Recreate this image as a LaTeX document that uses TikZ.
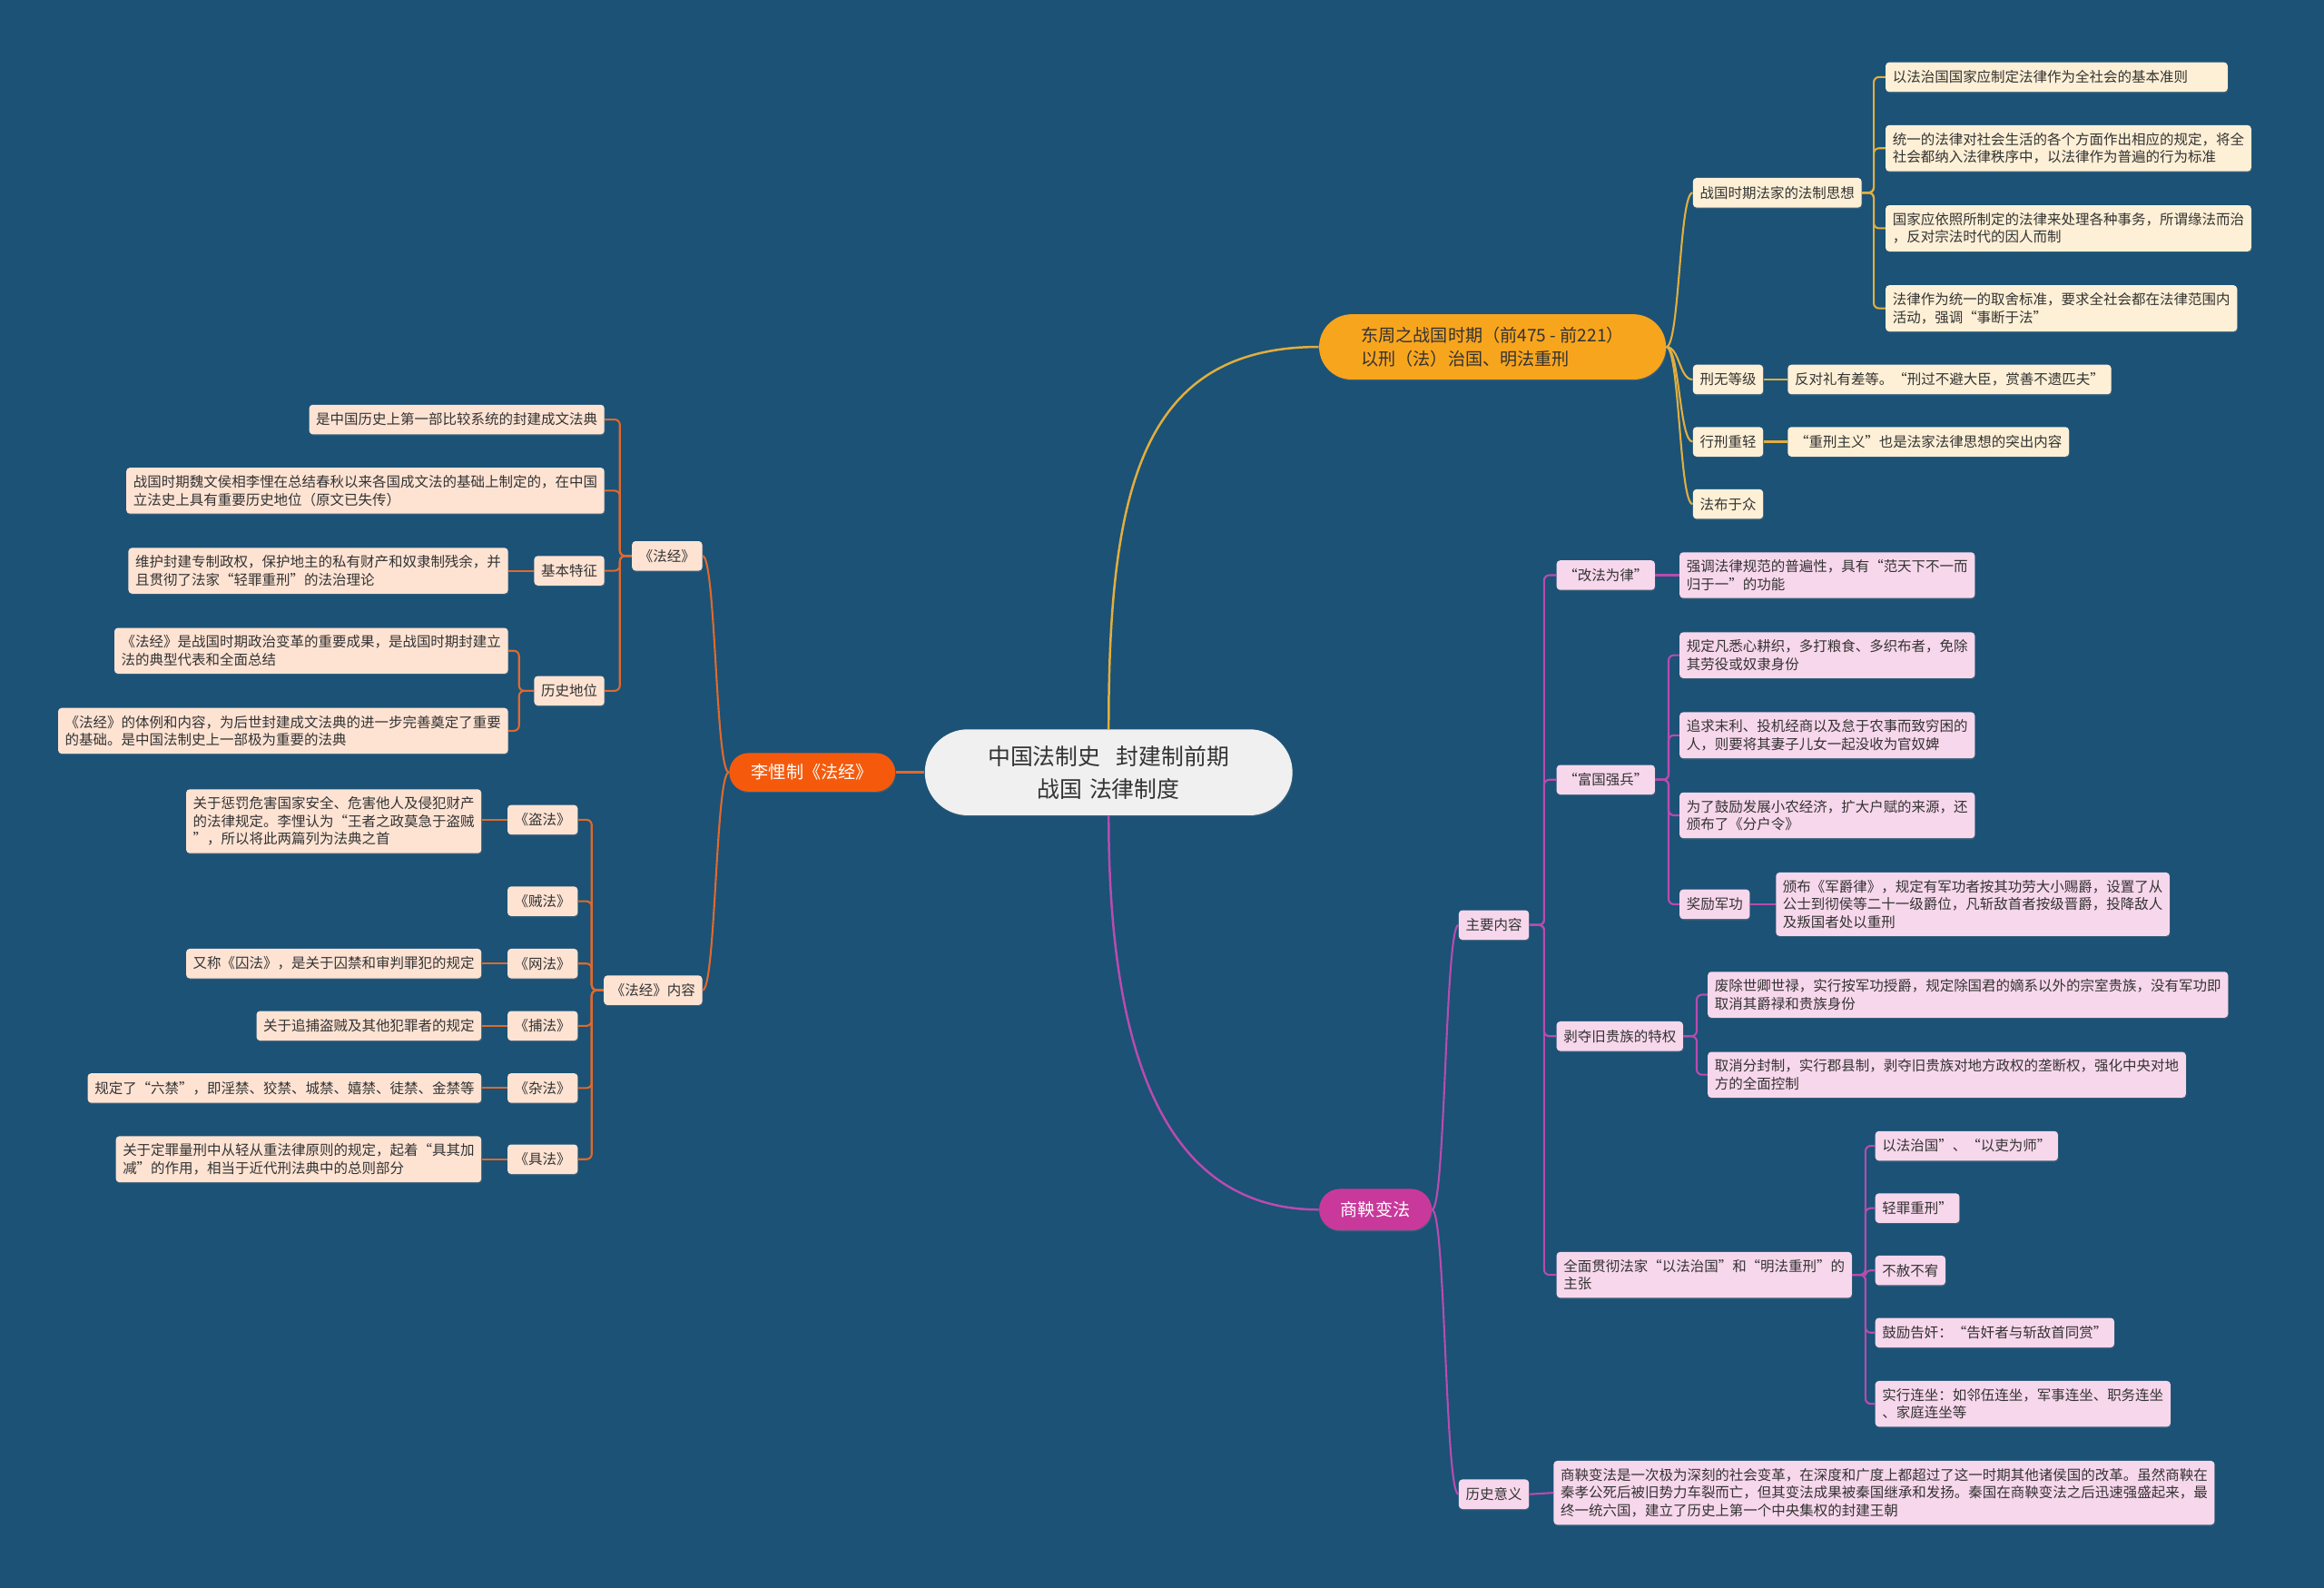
\documentclass[tikz,border=0pt]{standalone}
\usepackage{fontspec}
\newfontfamily\cjk{Noto Sans CJK SC}
\usetikzlibrary{shapes.misc,shadows}
\definecolor{bgc}{HTML}{1B5276}
\definecolor{txt}{HTML}{333333}
\definecolor{rootf}{HTML}{F0F0F0}
\definecolor{dzf}{HTML}{F8A51E}
\definecolor{lkf}{HTML}{F55A0C}
\definecolor{syf}{HTML}{C8399B}
\definecolor{yfill}{HTML}{FEF0D6}
\definecolor{ofill}{HTML}{FEE3D3}
\definecolor{pfill}{HTML}{F7D7EC}
\definecolor{yline}{HTML}{E2AE3E}
\definecolor{oline}{HTML}{E0692C}
\definecolor{pline}{HTML}{B94BAF}
\begin{document}
\begin{tikzpicture}[x=0.3mm, y=-0.3mm,
  it/.style={rounded corners=2pt, align=left, inner xsep=4pt, inner ysep=4.3pt,
             minimum height=17pt, text=txt, font=\cjk\fontsize{8.1}{10.2}\selectfont,
             drop shadow={shadow xshift=0.4pt, shadow yshift=-0.7pt, opacity=0.3}},
  yb/.style={it, fill=yfill, anchor=west},
  ob/.style={it, fill=ofill, anchor=east},
  pb/.style={it, fill=pfill, anchor=west},
  pill/.style={rounded rectangle, inner sep=0pt, font=\cjk\fontsize{10}{13.7}\selectfont,
               drop shadow={shadow xshift=0.4pt, shadow yshift=-0.7pt, opacity=0.3}},
  ylk/.style={draw=yline, line width=1.1pt, rounded corners=3pt},
  olk/.style={draw=oline, line width=1.1pt, rounded corners=3pt},
  plk/.style={draw=pline, line width=1.1pt, rounded corners=3pt},
]
  \fill[bgc] (0,0) rectangle (1568,1071);

  \node[pill, fill=rootf, text=txt, align=center, minimum width=74.4mm, minimum height=17.4mm,
        font=\cjk\fontsize{13}{18.8}\selectfont] (root) at (748,521)
        {中国法制史\hspace{0.7em}封建制前期\\战国\hspace{0.3em}法律制度};
  \node[pill, fill=dzf, text=txt, align=left, minimum width=70.2mm, minimum height=13.2mm] (dz) at (1007,234)
        {东周之战国时期（前475 - 前221）\\以刑（法）治国、明法重刑};
  \node[pill, fill=lkf, text=white, minimum width=33.6mm, minimum height=7.8mm] (lk) at (548,521) {李悝制《法经》};
  \node[pill, fill=syf, text=white, minimum width=22.8mm, minimum height=8.4mm] (sy) at (928,816) {商鞅变法};

  \node[yb] (zg) at (1142,130) {战国时期法家的法制思想};
  \node[yb] (xw) at (1142,256) {刑无等级};
  \node[yb] (xx) at (1142,298) {行刑重轻};
  \node[yb] (fb) at (1142,340) {法布于众};
  \node[yb, text width=66.4mm] (zg1) at (1272,52) {以法治国国家应制定法律作为全社会的基本准则};
  \node[yb] (zg2) at (1272,100) {统一的法律对社会生活的各个方面作出相应的规定，将全\\社会都纳入法律秩序中，以法律作为普遍的行为标准};
  \node[yb] (zg3) at (1272,154) {国家应依照所制定的法律来处理各种事务，所谓缘法而治\\，反对宗法时代的因人而制};
  \node[yb] (zg4) at (1272,208) {法律作为统一的取舍标准，要求全社会都在法律范围内\\活动，强调“事断于法”};
  \node[yb] (xw1) at (1206,256) {反对礼有差等。“刑过不避大臣，赏善不遗匹夫”};
  \node[yb] (xx1) at (1206,298) {“重刑主义”也是法家法律思想的突出内容};

  \node[ob] (fj) at (474,375) {《法经》};
  \node[ob] (nr) at (474,668) {《法经》内容};
  \node[ob] (fj1) at (408,283) {是中国历史上第一部比较系统的封建成文法典};
  \node[ob] (fj2) at (408,331) {战国时期魏文侯相李悝在总结春秋以来各国成文法的基础上制定的，在中国\\立法史上具有重要历史地位（原文已失传）};
  \node[ob] (tz) at (408,385) {基本特征};
  \node[ob] (dw) at (408,466) {历史地位};
  \node[ob] (tz1) at (343,385) {维护封建专制政权，保护地主的私有财产和奴隶制残余，并\\且贯彻了法家“轻罪重刑”的法治理论};
  \node[ob] (dw1) at (343,439) {《法经》是战国时期政治变革的重要成果，是战国时期封建立\\法的典型代表和全面总结};
  \node[ob] (dw2) at (343,493) {《法经》的体例和内容，为后世封建成文法典的进一步完善奠定了重要\\的基础。是中国法制史上一部极为重要的法典};
  \node[ob] (df) at (390,553) {《盗法》};
  \node[ob] (zf) at (390,608) {《贼法》};
  \node[ob] (wf) at (390,650) {《网法》};
  \node[ob] (bf) at (390,692) {《捕法》};
  \node[ob] (cf) at (390,734) {《杂法》};
  \node[ob] (jf) at (390,782) {《具法》};
  \node[ob] (df1) at (325,554) {关于惩罚危害国家安全、危害他人及侵犯财产\\的法律规定。李悝认为“王者之政莫急于盗贼\\”，所以将此两篇列为法典之首};
  \node[ob] (wf1) at (325,650) {又称《囚法》，是关于囚禁和审判罪犯的规定};
  \node[ob] (bf1) at (325,692) {关于追捕盗贼及其他犯罪者的规定};
  \node[ob] (cf1) at (325,734) {规定了“六禁”，即淫禁、狡禁、城禁、嬉禁、徒禁、金禁等};
  \node[ob] (jf1) at (325,782) {关于定罪量刑中从轻从重法律原则的规定，起着“具其加\\减”的作用，相当于近代刑法典中的总则部分};

  \node[pb] (zy) at (984,624) {主要内容};
  \node[pb] (ls) at (984,1008) {历史意义};
  \node[pb] (gf) at (1050,388) {“改法为律”};
  \node[pb] (fg) at (1050,526) {“富国强兵”};
  \node[pb] (bd) at (1050,699) {剥夺旧贵族的特权};
  \node[pb] (qm) at (1050,860) {全面贯彻法家“以法治国”和“明法重刑”的\\主张};
  \node[pb] (gf1) at (1133,388) {强调法律规范的普遍性，具有“范天下不一而\\归于一”的功能};
  \node[pb] (fg1) at (1133,442) {规定凡悉心耕织，多打粮食、多织布者，免除\\其劳役或奴隶身份};
  \node[pb] (fg2) at (1133,496) {追求末利、投机经商以及怠于农事而致穷困的\\人，则要将其妻子儿女一起没收为官奴婢};
  \node[pb] (fg3) at (1133,550) {为了鼓励发展小农经济，扩大户赋的来源，还\\颁布了《分户令》};
  \node[pb] (jl) at (1133,610) {奖励军功};
  \node[pb] (jl1) at (1198,610) {颁布《军爵律》，规定有军功者按其功劳大小赐爵，设置了从\\公士到彻侯等二十一级爵位，凡斩敌首者按级晋爵，投降敌人\\及叛国者处以重刑};
  \node[pb] (bd1) at (1152,671) {废除世卿世禄，实行按军功授爵，规定除国君的嫡系以外的宗室贵族，没有军功即\\取消其爵禄和贵族身份};
  \node[pb] (bd2) at (1152,725) {取消分封制，实行郡县制，剥夺旧贵族对地方政权的垄断权，强化中央对地\\方的全面控制};
  \node[pb] (qm1) at (1265,773) {以法治国”、“以吏为师”};
  \node[pb] (qm2) at (1265,815) {轻罪重刑”};
  \node[pb] (qm3) at (1265,857) {不赦不宥};
  \node[pb] (qm4) at (1265,899) {鼓励告奸：“告奸者与斩敌首同赏”};
  \node[pb] (qm5) at (1265,947) {实行连坐：如邻伍连坐，军事连坐、职务连坐\\、家庭连坐等};
  \node[pb] (ls1) at (1048,1007) {商鞅变法是一次极为深刻的社会变革，在深度和广度上都超过了这一时期其他诸侯国的改革。虽然商鞅在\\秦孝公死后被旧势力车裂而亡，但其变法成果被秦国继承和发扬。秦国在商鞅变法之后迅速强盛起来，最\\终一统六国，建立了历史上第一个中央集权的封建王朝};

  \draw[ylk, line width=1.3pt] (root.north) .. controls (748,330) and (770,234) .. (dz.west);
  \draw[plk, line width=1.3pt] (root.south) .. controls (748,720) and (790,816) .. (sy.west);
  \draw[olk, line width=1.3pt] (root.west) -- (lk.east);

  \draw[ylk] (dz.east) .. controls +(9,0) and +(-9,0) .. (zg.west);
  \draw[ylk] (dz.east) .. controls +(9,0) and +(-9,0) .. (xw.west);
  \draw[ylk] (dz.east) .. controls +(9,0) and +(-9,0) .. (xx.west);
  \draw[ylk] (dz.east) .. controls +(9,0) and +(-9,0) .. (fb.west);
  \draw[ylk] (zg.east) -- ++(8,0) |- (zg1.west);
  \draw[ylk] (zg.east) -- ++(8,0) |- (zg2.west);
  \draw[ylk] (zg.east) -- ++(8,0) |- (zg3.west);
  \draw[ylk] (zg.east) -- ++(8,0) |- (zg4.west);
  \draw[ylk] (xw.east) -- (xw1.west);
  \draw[ylk] (xx.east) -- (xx1.west);

  \draw[olk] (lk.west) .. controls +(-9,0) and +(9,0) .. (fj.east);
  \draw[olk] (lk.west) .. controls +(-9,0) and +(9,0) .. (nr.east);
  \draw[olk] (fj.west) -- ++(-8,0) |- (fj1.east);
  \draw[olk] (fj.west) -- ++(-8,0) |- (fj2.east);
  \draw[olk] (fj.west) -- ++(-8,0) |- (tz.east);
  \draw[olk] (fj.west) -- ++(-8,0) |- (dw.east);
  \draw[olk] (tz.west) -- (tz1.east);
  \draw[olk] (dw.west) -- ++(-10,0) |- (dw1.east);
  \draw[olk] (dw.west) -- ++(-10,0) |- (dw2.east);
  \draw[olk] (nr.west) -- ++(-8,0) |- (df.east);
  \draw[olk] (nr.west) -- ++(-8,0) |- (zf.east);
  \draw[olk] (nr.west) -- ++(-8,0) |- (wf.east);
  \draw[olk] (nr.west) -- ++(-8,0) |- (bf.east);
  \draw[olk] (nr.west) -- ++(-8,0) |- (cf.east);
  \draw[olk] (nr.west) -- ++(-8,0) |- (jf.east);
  \draw[olk] (df.west) -- (df1.east |- df.west);
  \draw[olk] (wf.west) -- (wf1.east);
  \draw[olk] (bf.west) -- (bf1.east);
  \draw[olk] (cf.west) -- (cf1.east);
  \draw[olk] (jf.west) -- (jf1.east);

  \draw[plk] (sy.east) .. controls +(9,0) and +(-9,0) .. (zy.west);
  \draw[plk] (sy.east) .. controls +(9,0) and +(-9,0) .. (ls.west);
  \draw[plk] (zy.east) -- ++(10,0) |- (gf.west);
  \draw[plk] (zy.east) -- ++(10,0) |- (fg.west);
  \draw[plk] (zy.east) -- ++(10,0) |- (bd.west);
  \draw[plk] (zy.east) -- ++(10,0) |- (qm.west);
  \draw[plk] (gf.east) -- (gf1.west);
  \draw[plk] (fg.east) -- ++(9,0) |- (fg1.west);
  \draw[plk] (fg.east) -- ++(9,0) |- (fg2.west);
  \draw[plk] (fg.east) -- ++(9,0) |- (fg3.west);
  \draw[plk] (fg.east) -- ++(9,0) |- (jl.west);
  \draw[plk] (jl.east) -- (jl1.west);
  \draw[plk] (bd.east) -- ++(9,0) |- (bd1.west);
  \draw[plk] (bd.east) -- ++(9,0) |- (bd2.west);
  \draw[plk] (qm.east) -- ++(9,0) |- (qm1.west);
  \draw[plk] (qm.east) -- ++(9,0) |- (qm2.west);
  \draw[plk] (qm.east) -- ++(9,0) |- (qm3.west);
  \draw[plk] (qm.east) -- ++(9,0) |- (qm4.west);
  \draw[plk] (qm.east) -- ++(9,0) |- (qm5.west);
  \draw[plk] (ls.east) -- (ls1.west);
\end{tikzpicture}
\end{document}
